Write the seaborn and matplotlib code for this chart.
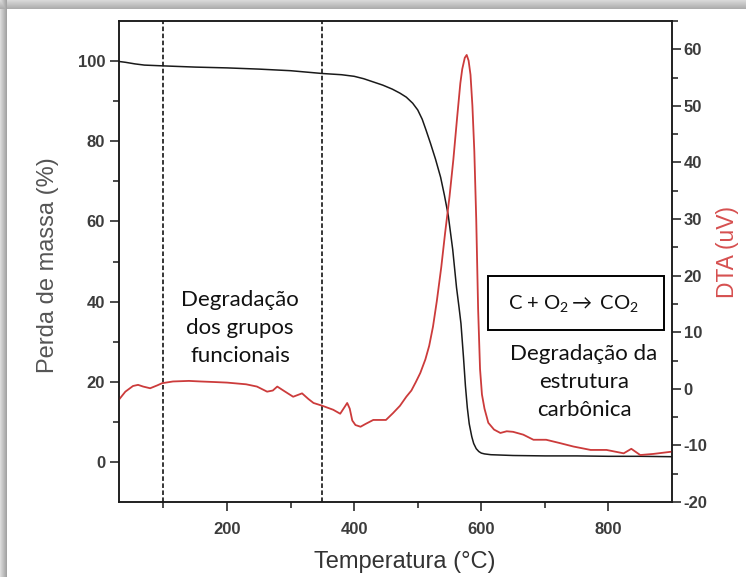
import numpy as np
import pandas as pd
import matplotlib
matplotlib.use("Agg")
import matplotlib.pyplot as plt
from matplotlib.patches import Rectangle
from matplotlib.ticker import MultipleLocator, FixedLocator
import seaborn as sns

# Thermogravimetric curve (mass loss, %)
tga_temp = [30, 40, 55, 70, 85, 100, 150, 200, 250, 300, 350, 380, 400, 415,
            430, 445, 460, 472, 482, 492, 500, 507, 513, 520, 528, 536, 542,
            548, 555, 561, 565, 568, 572, 575, 578, 581, 585, 588, 592, 596,
            600, 605, 615, 650, 700, 750, 800, 850, 900]
tga_mass = [99.9, 99.7, 99.3, 99.0, 98.9, 98.8, 98.5, 98.3, 98.0, 97.6, 96.9,
            96.6, 96.2, 95.6, 94.8, 94.0, 93.0, 92.0, 91.0, 89.5, 87.8, 85.5,
            82.8, 79.5, 75.5, 71.0, 66.5, 61.5, 53.0, 43.5, 38.5, 34.5, 26.0,
            19.0, 13.5, 9.5, 6.3, 4.6, 3.3, 2.6, 2.2, 2.0, 1.8, 1.6, 1.5, 1.5,
            1.4, 1.4, 1.3]

# Differential thermal analysis signal (uV)
dta_temp = [30, 40, 52, 60, 68, 79, 90, 98, 115, 140, 158, 180, 200, 210, 230,
            247, 263, 272, 279, 290, 304, 318, 328, 336, 350, 367, 378, 385,
            389, 393, 397, 402, 410, 418, 430, 450, 461, 472, 482, 490, 497,
            504, 512, 518, 524, 530, 537, 543, 550, 556, 562, 567, 570, 574,
            577, 580, 583, 586, 589, 592, 595, 598, 601, 605, 611, 620, 630,
            640, 650, 666, 682, 702, 724, 745, 772, 797, 824, 836, 850, 871,
            900]
dta_signal = [-1.9, -0.5, 0.5, 0.7, 0.4, 0.1, 0.6, 1.0, 1.3, 1.4, 1.3, 1.2, 1.1,
              1.0, 0.8, 0.4, -0.5, -0.3, 0.4, -0.4, -1.4, -0.8, -1.8, -2.5,
              -3.0, -3.7, -4.4, -3.2, -2.5, -3.5, -5.6, -6.4, -6.7, -6.2, -5.5,
              -5.5, -4.3, -3.0, -1.4, -0.3, 1.2, 2.8, 5.2, 7.6, 11.0, 15.5,
              21.5, 27.5, 34.0, 40.5, 48.0, 54.0, 56.5, 58.5, 59.0, 58.0, 55.5,
              50.0, 42.0, 30.0, 14.0, 3.5, -1.0, -3.5, -6.0, -7.2, -7.8, -7.5,
              -7.6, -8.1, -9.0, -9.0, -9.6, -10.2, -10.8, -10.8, -11.4, -10.6,
              -11.7, -11.5, -11.1]

# Stage boundaries (°C)
stage_limits = [100, 350]

tga_df = pd.DataFrame({"T": tga_temp, "massa": tga_mass})
dta_df = pd.DataFrame({"T": dta_temp, "dta": dta_signal})

sns.set_style("ticks")
plt.rcParams["font.family"] = ["Liberation Sans", "DejaVu Sans"]
plt.rcParams["axes.unicode_minus"] = False
plt.rcParams["mathtext.fontset"] = "custom"
plt.rcParams["mathtext.rm"] = "Lato"
plt.rcParams["mathtext.it"] = "Lato:italic"
plt.rcParams["mathtext.bf"] = "Lato:bold"

W, H = 746, 577
fig = plt.figure(figsize=(W / 100, H / 100), dpi=100)
fig.patch.set_facecolor("white")

# Grey frame shadow along the top and left edges
bg = fig.add_axes([0, 0, 1, 1], zorder=-5)
frame = np.ones((H, W))
top_band = np.linspace(0.85, 0.68, 9)
left_band = np.linspace(0.86, 0.64, 7)
for i, g in enumerate(top_band):
    frame[i, :] = g
for j, g in enumerate(left_band):
    frame[:, j] = np.minimum(frame[:, j], g)
bg.imshow(np.dstack([frame] * 3), aspect="auto", extent=[0, 1, 0, 1],
          interpolation="bilinear")
bg.set_axis_off()

ax = fig.add_axes([119 / W, 1 - 502 / H, (672 - 119) / W, (502 - 21) / H])
ax2 = ax.twinx()

red = "#cc3b3b"
sns.lineplot(data=tga_df, x="T", y="massa", ax=ax, color="#1a1a1a",
             linewidth=1.1, legend=False)
sns.lineplot(data=dta_df, x="T", y="dta", ax=ax2, color=red,
             linewidth=1.3, legend=False)

for xv in stage_limits:
    ax.axvline(xv, color="black", linestyle=(0, (3, 1.6)), linewidth=1.1,
               zorder=1)

ax.set_xlim(30, 900)
ax.set_ylim(-10, 110)
ax2.set_ylim(-20, 65)

ax.xaxis.set_major_locator(FixedLocator([200, 400, 600, 800]))
ax.xaxis.set_minor_locator(FixedLocator([100, 300, 500, 700]))
ax.yaxis.set_major_locator(FixedLocator([0, 20, 40, 60, 80, 100]))
ax.yaxis.set_minor_locator(FixedLocator([10, 30, 50, 70, 90]))
ax2.yaxis.set_major_locator(MultipleLocator(10))
ax2.yaxis.set_minor_locator(MultipleLocator(5))

tick_col = "#3c3c3c"
for a in (ax, ax2):
    for s in a.spines.values():
        s.set_linewidth(1.1)
        s.set_color("#1a1a1a")
    a.tick_params(which="major", direction="out", length=6.5, width=1.1,
                  color="#1a1a1a", labelsize=12, labelcolor=tick_col)
    a.tick_params(which="minor", direction="out", length=4.5, width=1.1,
                  color="#1a1a1a")
    for lab in a.get_xticklabels() + a.get_yticklabels():
        lab.set_fontweight("bold")
ax.tick_params(top=False, right=False)
ax.tick_params(axis="x", pad=8)
ax2.tick_params(axis="y", which="both", right=True, left=False, pad=2)

ax.set_xlabel("Temperatura (°C)", fontsize=17, color="#333333",
              va="center")
ax.xaxis.set_label_coords(0.517, -0.125)
ax.set_ylabel("Perda de massa (%)", fontsize=17, color="#555555",
              va="center")
ax.yaxis.set_label_coords(-0.128, 0.493)
ax2.set_ylabel("DTA (uV)", fontsize=16.5, color="#d65050", va="center")
ax2.yaxis.set_label_coords(1.0995, 0.52)

txt_font = ["Lato", "DejaVu Sans"]
ax.text(0.219, 0.362, "Degradação\ndos grupos\nfuncionais",
        transform=ax.transAxes, ha="center", va="center", fontsize=16,
        family=txt_font, linespacing=1.5, color="#111111")
ax.text(0.841, 0.249, "Degradação da\nestrutura\ncarbônica",
        transform=ax.transAxes, ha="center", va="center", fontsize=16,
        family=txt_font, linespacing=1.5, color="#111111")
ax.add_patch(Rectangle((0.667, 0.358), 0.318, 0.112, transform=ax.transAxes,
                       fill=False, edgecolor="black", linewidth=1.4,
                       zorder=5))
ax.text(0.822, 0.412, r"C + O$_2$$\rightarrow$ CO$_2$",
        transform=ax.transAxes, ha="center", va="center", fontsize=14.5,
        family=txt_font, color="#111111", zorder=6)

fig.savefig("out.png", dpi=100)
